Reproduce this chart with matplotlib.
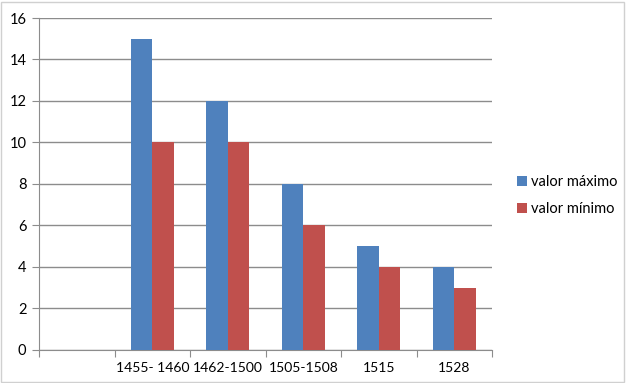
import numpy as np
import matplotlib.pyplot as plt
from matplotlib.patches import Rectangle

plt.rcParams['font.family'] = ['Lato', 'DejaVu Sans']

categories = ['', '1455- 1460', '1462-1500', '1505-1508', '1515', '1528']
valor_maximo = [15, 12, 8, 5, 4]
valor_minimo = [10, 10, 6, 4, 3]

blue = '#4F81BD'
red = '#C0504D'
grid_col = '#8C8C8C'

fig = plt.figure(figsize=(6.27, 3.83), dpi=100)
ax = fig.add_axes([0.0622, 0.0862, 0.7225, 0.8668])

# first slot of the category axis is empty
x = np.arange(1, len(categories))
w = 1 / 3.5
ax.bar(x - w / 2, valor_maximo, w, color=blue, label='valor máximo', zorder=3)
ax.bar(x + w / 2, valor_minimo, w, color=red, label='valor mínimo', zorder=3)

ax.set_xlim(-0.5, len(categories) - 0.5)
ax.set_ylim(0, 16)
ax.set_yticks(range(0, 17, 2))
ax.yaxis.grid(True, color=grid_col, linewidth=1, zorder=0)

ax.set_xticks(np.arange(-0.5, len(categories), 1))
ax.set_xticklabels([])
ax.set_xticks(np.arange(len(categories)), minor=True)
ax.set_xticklabels(categories, minor=True)
ax.tick_params(axis='x', which='minor', length=0, pad=9, labelsize=10)
ax.tick_params(axis='x', which='major', length=5, color=grid_col, direction='out')
ax.tick_params(axis='y', length=5, color=grid_col, labelsize=10.5, pad=4)

for s in ['top', 'right']:
    ax.spines[s].set_visible(False)
for s in ['left', 'bottom']:
    ax.spines[s].set_color(grid_col)

leg = fig.legend(loc='center left', bbox_to_anchor=(0.824, 0.49), frameon=False,
                 fontsize=10.5, handlelength=0.7, handleheight=0.7, handletextpad=0.3,
                 labelspacing=0.9, borderpad=0, borderaxespad=0)

fig.patches.append(Rectangle((0.002, 0.002), 0.994, 0.992, transform=fig.transFigure,
                             fill=False, edgecolor='#D0D0D0', linewidth=1))

plt.savefig('out.png', dpi=100)
